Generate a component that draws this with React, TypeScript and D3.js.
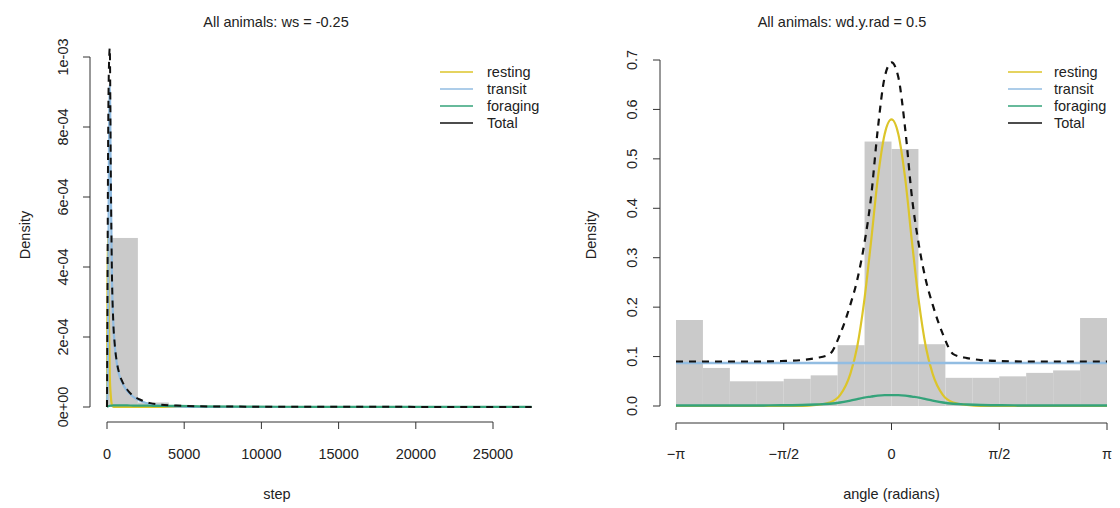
import React from 'react';
import * as d3 from 'd3';

const W = 1120;
const H = 508;
const FONT = '"Liberation Sans", Arial, Helvetica, sans-serif';

// ---------- Left panel: step lengths ----------
const stepBinWidth = 2000;
const stepBinStarts = [0, 2000, 4000, 6000, 8000, 10000, 12000, 14000, 16000, 18000, 20000, 22000, 24000, 26000];
const stepHistDensity = [4.83e-4, 1.3e-5, 2.5e-6, 1.0e-6, 6e-7, 4e-7, 3e-7, 2e-7, 2e-7, 1e-7, 1e-7, 1e-7, 1e-7, 1e-7];

const stepGrid = [0, 30, 60, 120, 180, 250, 320, 400, 500, 650, 800, 1000, 1300, 1700, 2200, 2800, 3500, 4500, 6000, 9000, 13000, 18000, 23000, 27500];
const stepResting = [0, 3.0e-4, 5.0e-4, 2.6e-4, 0.9e-4, 0.3e-4, 0.06e-4, 0.01e-4, 0, 0, 0, 0, 0, 0, 0, 0, 0, 0, 0, 0, 0, 0, 0, 0];
const stepTransit = [0, 0.5e-4, 1.5e-4, 6.8e-4, 9.2e-4, 6.2e-4, 3.7e-4, 2.45e-4, 1.75e-4, 1.2e-4, 0.9e-4, 0.68e-4, 0.46e-4, 0.29e-4, 0.17e-4, 0.08e-4, 0.035e-4, 0.01e-4, 0, 0, 0, 0, 0, 0];
const stepForaging = [0, 0.01e-4, 0.02e-4, 0.03e-4, 0.035e-4, 0.04e-4, 0.04e-4, 0.045e-4, 0.045e-4, 0.045e-4, 0.045e-4, 0.045e-4, 0.045e-4, 0.04e-4, 0.04e-4, 0.035e-4, 0.03e-4, 0.03e-4, 0.02e-4, 0.01e-4, 0.006e-4, 0.004e-4, 0.003e-4, 0.002e-4];
const stepTotal = [0, 3.1e-4, 6.5e-4, 9.6e-4, 1.025e-3, 6.5e-4, 3.8e-4, 2.5e-4, 1.8e-4, 1.25e-4, 0.95e-4, 0.72e-4, 0.5e-4, 0.32e-4, 0.2e-4, 0.11e-4, 0.065e-4, 0.04e-4, 0.02e-4, 0.01e-4, 0.006e-4, 0.004e-4, 0.003e-4, 0.002e-4];

const stepTicks = [0, 5000, 10000, 15000, 20000, 25000];
const stepTickLabels = ['0', '5000', '10000', '15000', '20000', '25000'];
const leftDensTicks = [0, 2e-4, 4e-4, 6e-4, 8e-4, 1e-3];
const leftDensTickLabels = ['0e+00', '2e-04', '4e-04', '6e-04', '8e-04', '1e-03'];

// ---------- Right panel: turning angles ----------
const angleBinCount = 16;
const angleHistDensity = [0.174, 0.077, 0.05, 0.05, 0.055, 0.062, 0.123, 0.535, 0.52, 0.125, 0.057, 0.057, 0.06, 0.067, 0.072, 0.178];

const angleGrid = [-3.1416, -2.5, -2.0, -1.6, -1.3, -1.1, -0.9, -0.75, -0.6, -0.5, -0.4, -0.3, -0.2, -0.1, 0, 0.1, 0.2, 0.3, 0.4, 0.5, 0.6, 0.75, 0.9, 1.1, 1.3, 1.6, 2.0, 2.5, 3.1416];
const angleResting = [0, 0, 0, 0, 0, 0.002, 0.007, 0.022, 0.065, 0.12, 0.21, 0.33, 0.46, 0.55, 0.58, 0.55, 0.46, 0.33, 0.21, 0.12, 0.065, 0.022, 0.007, 0.002, 0, 0, 0, 0, 0];
const angleTransit = [0.087, 0.087, 0.087, 0.087, 0.087, 0.087, 0.087, 0.087, 0.087, 0.087, 0.087, 0.087, 0.087, 0.087, 0.087, 0.087, 0.087, 0.087, 0.087, 0.087, 0.087, 0.087, 0.087, 0.087, 0.087, 0.087, 0.087, 0.087, 0.087];
const angleForaging = [0.001, 0.001, 0.001, 0.0015, 0.002, 0.003, 0.0045, 0.007, 0.011, 0.014, 0.017, 0.019, 0.021, 0.022, 0.022, 0.022, 0.021, 0.019, 0.017, 0.014, 0.011, 0.007, 0.0045, 0.003, 0.002, 0.0015, 0.001, 0.001, 0.001];
const angleTotal = [0.09, 0.09, 0.09, 0.091, 0.093, 0.097, 0.105, 0.145, 0.205, 0.255, 0.325, 0.42, 0.56, 0.665, 0.695, 0.665, 0.56, 0.42, 0.325, 0.255, 0.205, 0.145, 0.105, 0.097, 0.093, 0.091, 0.09, 0.09, 0.09];

const angleTicks = [-Math.PI, -Math.PI / 2, 0, Math.PI / 2, Math.PI];
const angleTickLabels = ['\u2212\u03c0', '\u2212\u03c0/2', '0', '\u03c0/2', '\u03c0'];
const rightDensTicks = [0, 0.1, 0.2, 0.3, 0.4, 0.5, 0.6, 0.7];
const rightDensTickLabels = ['0.0', '0.1', '0.2', '0.3', '0.4', '0.5', '0.6', '0.7'];

const legendLabels = ['resting', 'transit', 'foraging', 'Total'];
const COL_REST = '#dcc52a';
const COL_TRANS = '#92bde2';
const COL_FOR = '#34a37a';
const COL_TOTAL = '#111111';
const COL_HIST = '#cacaca';
const legendColors = [COL_REST, COL_TRANS, COL_FOR, COL_TOTAL];

const TXT = '#222';
const AX = '#333';
const FS = 14.5;

type Panel = {
  x: d3.ScaleLinear<number, number>;
  y: d3.ScaleLinear<number, number>;
};

function Legend({ lineX0, lineX1, textX, y0, dy }: { lineX0: number; lineX1: number; textX: number; y0: number; dy: number }) {
  return (
    <g>
      {legendLabels.map((lab, i) => (
        <g key={lab}>
          <line x1={lineX0} x2={lineX1} y1={y0 + i * dy} y2={y0 + i * dy} stroke={legendColors[i]} strokeWidth={1.6} />
          <text x={textX} y={y0 + i * dy} dy="0.35em" fontSize={FS} fill={TXT} fontFamily={FONT}>{lab}</text>
        </g>
      ))}
    </g>
  );
}

export default function App() {
  // Left scales
  const xL = d3.scaleLinear().domain([0, 25000]).range([107, 493]);
  const yL = d3.scaleLinear().domain([0, 1e-3]).range([407, 57]);
  // Right scales
  const xR = d3.scaleLinear().domain([-Math.PI, Math.PI]).range([676, 1107]);
  const yR = d3.scaleLinear().domain([0, 0.7]).range([406, 60]);

  const lineL = (vals: number[]) =>
    d3.line<number>().x((_, i) => xL(stepGrid[i])).y((d) => yL(d)).curve(d3.curveMonotoneX)(vals) || '';
  const lineR = (vals: number[]) =>
    d3.line<number>().x((_, i) => xR(angleGrid[i])).y((d) => yR(d)).curve(d3.curveMonotoneX)(vals) || '';

  const angleBinW = (2 * Math.PI) / angleBinCount;
  const angleBinStarts = d3.range(angleBinCount).map((i) => -Math.PI + i * angleBinW);

  return (
    <div style={{ position: 'fixed', left: 0, top: 0, width: W, height: H, background: '#fff' }}>
      <svg width={W} height={H} viewBox={`0 0 ${W} ${H}`} style={{ display: 'block' }}>
        <defs>
          <clipPath id="clipL"><rect x={90} y={40} width={460} height={382} /></clipPath>
          <clipPath id="clipR"><rect x={660} y={40} width={460} height={382} /></clipPath>
        </defs>
        <rect x={0} y={0} width={W} height={H} fill="#fff" />

        {/* ---------- LEFT PANEL ---------- */}
        <text x={276} y={27} textAnchor="middle" fontSize={FS} fill={TXT} fontFamily={FONT}>All animals: ws = -0.25</text>
        <g clipPath="url(#clipL)">
          {stepBinStarts.map((s, i) => (
            <rect key={i} x={xL(s)} y={yL(stepHistDensity[i])} width={xL(s + stepBinWidth) - xL(s)}
              height={yL(0) - yL(stepHistDensity[i])} fill={COL_HIST} />
          ))}
          <path d={lineL(stepResting)} fill="none" stroke={COL_REST} strokeWidth={2.2} />
          <path d={lineL(stepTransit)} fill="none" stroke={COL_TRANS} strokeWidth={2.2} />
          <path d={lineL(stepForaging)} fill="none" stroke={COL_FOR} strokeWidth={2.2} />
          <path d={lineL(stepTotal)} fill="none" stroke={COL_TOTAL} strokeWidth={2} strokeDasharray="7,6" />
        </g>
        {/* left y axis */}
        <line x1={90} x2={90} y1={yL(0)} y2={yL(1e-3)} stroke={AX} />
        {leftDensTicks.map((t, i) => (
          <g key={i}>
            <line x1={83} x2={90} y1={yL(t)} y2={yL(t)} stroke={AX} />
            <text transform={`translate(68,${yL(t)}) rotate(-90)`} textAnchor="middle" fontSize={FS} fill={TXT} fontFamily={FONT}>{leftDensTickLabels[i]}</text>
          </g>
        ))}
        <text transform={`translate(30,235) rotate(-90)`} textAnchor="middle" fontSize={FS} fill={TXT} fontFamily={FONT}>Density</text>
        {/* left x axis */}
        <line x1={xL(0)} x2={xL(25000)} y1={422} y2={422} stroke={AX} />
        {stepTicks.map((t, i) => (
          <g key={i}>
            <line x1={xL(t)} x2={xL(t)} y1={422} y2={429} stroke={AX} />
            <text x={xL(t)} y={459} textAnchor="middle" fontSize={FS} fill={TXT} fontFamily={FONT}>{stepTickLabels[i]}</text>
          </g>
        ))}
        <text x={xL(11000)} y={499} textAnchor="middle" fontSize={FS} fill={TXT} fontFamily={FONT}>step</text>
        <Legend lineX0={440} lineX1={473} textX={487} y0={72} dy={17} />

        {/* ---------- RIGHT PANEL ---------- */}
        <text x={842} y={27} textAnchor="middle" fontSize={FS} fill={TXT} fontFamily={FONT}>All animals: wd.y.rad = 0.5</text>
        <g clipPath="url(#clipR)">
          {angleBinStarts.map((s, i) => (
            <rect key={i} x={xR(s)} y={yR(angleHistDensity[i])} width={xR(s + angleBinW) - xR(s)}
              height={yR(0) - yR(angleHistDensity[i])} fill={COL_HIST} />
          ))}
          <path d={lineR(angleResting)} fill="none" stroke={COL_REST} strokeWidth={2.2} />
          <path d={lineR(angleTransit)} fill="none" stroke={COL_TRANS} strokeWidth={2.6} />
          <path d={lineR(angleForaging)} fill="none" stroke={COL_FOR} strokeWidth={2.4} />
          <path d={lineR(angleTotal)} fill="none" stroke={COL_TOTAL} strokeWidth={2.2} strokeDasharray="7,6" />
        </g>
        {/* right y axis */}
        <line x1={660} x2={660} y1={yR(0)} y2={yR(0.7)} stroke={AX} />
        {rightDensTicks.map((t, i) => (
          <g key={i}>
            <line x1={653} x2={660} y1={yR(t)} y2={yR(t)} stroke={AX} />
            <text transform={`translate(637,${yR(t)}) rotate(-90)`} textAnchor="middle" fontSize={FS} fill={TXT} fontFamily={FONT}>{rightDensTickLabels[i]}</text>
          </g>
        ))}
        <text transform={`translate(596,235) rotate(-90)`} textAnchor="middle" fontSize={FS} fill={TXT} fontFamily={FONT}>Density</text>
        {/* right x axis */}
        <line x1={xR(-Math.PI)} x2={xR(Math.PI)} y1={423} y2={423} stroke={AX} />
        {angleTicks.map((t, i) => (
          <g key={i}>
            <line x1={xR(t)} x2={xR(t)} y1={423} y2={430} stroke={AX} />
            <text x={xR(t)} y={459} textAnchor="middle" fontSize={FS} fill={TXT} fontFamily={FONT}>{angleTickLabels[i]}</text>
          </g>
        ))}
        <text x={xR(0)} y={499} textAnchor="middle" fontSize={FS} fill={TXT} fontFamily={FONT}>angle (radians)</text>
        <Legend lineX0={1008} lineX1={1042} textX={1054} y0={72} dy={17} />
      </svg>
    </div>
  );
}
